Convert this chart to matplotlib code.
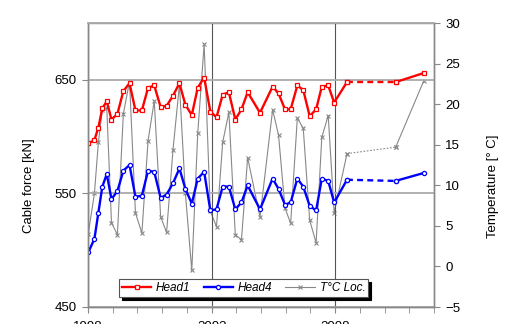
import matplotlib

matplotlib.use("Agg")
import matplotlib.pyplot as plt
from matplotlib.lines import Line2D
from matplotlib.ticker import FixedLocator, MultipleLocator

plt.rcParams["font.family"] = ["Liberation Sans", "DejaVu Sans"]

# measurement times (decimal years)
years = [
    1998.01, 1998.26, 1998.42, 1998.58, 1998.76, 1998.95, 1999.19, 1999.43,
    1999.68, 1999.92, 2000.18, 2000.43, 2000.68, 2000.94, 2001.18, 2001.44,
    2001.70, 2001.94, 2002.20, 2002.44, 2002.70, 2002.95, 2003.20, 2003.45,
    2003.70, 2003.96, 2004.21, 2004.46, 2004.96, 2005.47, 2005.71, 2005.97,
    2006.20, 2006.47, 2006.71, 2006.97, 2007.23, 2007.46, 2007.72, 2007.96,
    2008.48, 2010.45, 2011.59,
]
head1 = [
    594, 597, 608, 625, 631, 615, 620, 640, 647, 623, 623, 643, 645, 626,
    627, 636, 647, 628, 619, 643, 652, 622, 617, 637, 639, 615, 624, 639,
    621, 644, 638, 624, 624, 645, 641, 618, 624, 644, 645, 630,
    648, 648, 656,
]
head4 = [
    498, 510, 533, 556, 567, 545, 552, 570, 575, 547, 548, 570, 569, 546,
    549, 559, 572, 554, 541, 563, 569, 535, 536, 556, 556, 536, 542, 557,
    536, 563, 554, 540, 542, 563, 556, 539, 535, 563, 561, 542,
    562, 561, 568,
]
temp = [
    4.0, 9.0, 15.3, 19.3, 19.5, 5.4, 3.9, 18.8, 22.8, 6.6, 4.1, 15.5, 20.4,
    6.1, 4.2, 14.4, 22.4, 9.0, -0.5, 16.4, 27.4, 6.8, 4.9, 15.3, 19.0, 3.9,
    3.3, 13.4, 6.1, 19.3, 16.2, 7.2, 5.3, 18.3, 17.0, 5.7, 2.9, 15.9, 18.6,
    6.6, 13.9, 14.7, 22.9,
]

fig = plt.figure(figsize=(5.09, 3.24), dpi=100)
ax = fig.add_axes([88 / 509, 17 / 324, 346 / 509, 284 / 324])
ax2 = ax.twinx()
ax.set_zorder(ax2.get_zorder() + 1)
ax.patch.set_visible(False)

n = len(years) - 3  # index of last regular point (mid 2008)


def three_part(axis, y, color, lw, marker, ms, mew, dash):
    style = dict(color=color, lw=lw, marker=marker, ms=ms, mfc="white",
                 mec=color, mew=mew)
    axis.plot(years[: n + 1], y[: n + 1], **style)
    axis.plot(years[n: n + 2], y[n: n + 2], ls=dash, **style)
    axis.plot(years[n + 1:], y[n + 1:], **style)


three_part(ax2, temp, "#888888", 0.8, "x", 3, 0.8, (0, (1.5, 1.5)))
three_part(ax, head1, "#ff0000", 1.7, "s", 3.5, 0.9, (0, (2.5, 1.8)))
three_part(ax, head4, "#0000ff", 1.7, "o", 3, 0.9, (0, (2.5, 1.8)))

ax.set_xlim(1998, 2012)
ax.set_ylim(450, 700)
ax2.set_ylim(-5, 30)

ax.xaxis.set_major_locator(FixedLocator([1998, 2003, 2008]))
ax.xaxis.set_minor_locator(MultipleLocator(1))
ax.yaxis.set_major_locator(FixedLocator([450, 550, 650]))
ax2.yaxis.set_major_locator(MultipleLocator(5))

ax.grid(axis="y", color="#aaaaaa", lw=1.3)
ax.grid(axis="x", color="#555555", lw=0.8)

for a in (ax, ax2):
    for sp in a.spines.values():
        sp.set_color("#888888")
        sp.set_linewidth(1.0)
ax.spines["top"].set_color("#aaaaaa")
ax.spines["top"].set_linewidth(1.3)

ax.tick_params(axis="both", which="major", direction="out", length=4,
               color="#888888", labelsize=9.5, pad=4)
ax.tick_params(axis="x", which="minor", direction="out", length=4,
               color="#888888")
ax.tick_params(axis="x", pad=6)
ax2.tick_params(axis="y", direction="out", length=4, color="#888888",
                labelsize=9.5, pad=4)

ax.set_ylabel("Cable force [kN]", fontsize=9.5)
ax.yaxis.set_label_coords(-0.153, 0.426)
ax2.set_ylabel("Temperature [° C]", fontsize=9.5)
ax2.yaxis.set_label_coords(1.153, 0.426)

handles = [
    Line2D([], [], color="#ff0000", lw=1.7, marker="s", ms=3.5, mfc="white",
           mew=0.9),
    Line2D([], [], color="#0000ff", lw=1.7, marker="o", ms=3, mfc="white",
           mew=0.9),
    Line2D([], [], color="#888888", lw=0.8, marker="x", ms=3, mew=0.8),
]
leg = ax.legend(handles, ["Head1", "Head4", "T°C Loc."], ncol=3,
                loc="lower left", bbox_to_anchor=(0.072, 0.014, 0.755, 0.071),
                mode="expand", fancybox=False, shadow={"color": "k", "alpha": 1.0},
                framealpha=1, edgecolor="#555555",
                prop={"style": "italic", "size": 8.5}, handlelength=2.5,
                borderpad=0.25, handletextpad=0.4, columnspacing=1.0)
leg.get_frame().set_linewidth(0.8)

fig.savefig("out.png", dpi=100)
